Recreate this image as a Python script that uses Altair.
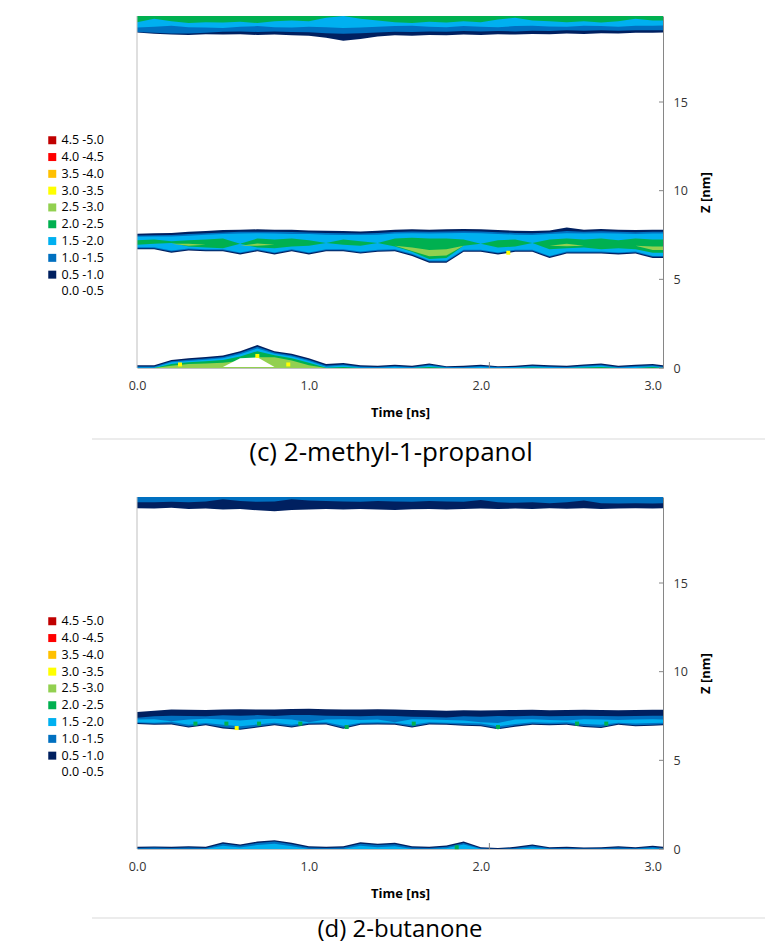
import altair as alt
import pandas as pd

# ---------------- data ----------------
TIME = [0.0, 0.1, 0.2, 0.3, 0.4, 0.5, 0.6, 0.7, 0.8, 0.9,
        1.0, 1.1, 1.2, 1.3, 1.4, 1.5, 1.6, 1.7, 1.8, 1.9,
        2.0, 2.1, 2.2, 2.3, 2.4, 2.5, 2.6, 2.7, 2.8, 2.9,
        3.0, 3.06]

LEGEND_LABELS = ["4.5 -5.0", "4.0 -4.5", "3.5 -4.0", "3.0 -3.5", "2.5 -3.0",
                 "2.0 -2.5", "1.5 -2.0", "1.0 -1.5", "0.5 -1.0", "0.0 -0.5"]
LEGEND_COLORS = ["#C00000", "#FF0000", "#FFC000", "#FFFF00", "#92D050",
                 "#00B050", "#00B0F0", "#0070C0", "#002060", "#FFFFFF"]

X_TICKS = [0, 1, 2, 3]
Y_TICKS = [0, 5, 10, 15]
Z_TOP = 19.85

CAPTIONS = ["(c) 2-methyl-1-propanol", "(d) 2-butanone"]

# ---- panel (c) : upper layer (lower edges, layer reaches top of plot)
C_TOP_NAVY = [18.92, 18.85, 18.80, 18.78, 18.82, 18.80, 18.82, 18.78, 18.80, 18.76,
              18.74, 18.62, 18.45, 18.55, 18.70, 18.76, 18.74, 18.78, 18.76, 18.80,
              18.78, 18.82, 18.80, 18.84, 18.82, 18.86, 18.84, 18.88, 18.86, 18.90,
              18.90, 18.92]
C_TOP_MID = [18.95, 18.90, 18.86, 18.86, 18.90, 18.96, 18.98, 18.95, 18.98, 18.95,
             18.94, 18.88, 18.85, 18.88, 18.92, 18.96, 18.95, 18.98, 18.96, 19.00,
             18.98, 19.00, 18.98, 19.02, 19.00, 19.04, 19.02, 19.04, 19.02, 19.04,
             19.04, 19.05]
C_TOP_LIGHT = [19.20, 19.25, 19.30, 19.22, 19.20, 19.18, 19.25, 19.28, 19.22, 19.20,
               19.25, 19.22, 19.18, 19.20, 19.25, 19.28, 19.30, 19.25, 19.22, 19.28,
               19.25, 19.22, 19.28, 19.30, 19.26, 19.24, 19.30, 19.28, 19.25, 19.30,
               19.30, 19.32]
C_TOP_GREEN = [19.50, 19.70, 19.55, 19.45, 19.50, 19.48, 19.52, 19.45, 19.55, 19.60,
               19.55, 19.75, 19.85, 19.70, 19.60, 19.50, 19.45, 19.52, 19.48, 19.55,
               19.50, 19.65, 19.75, 19.60, 19.55, 19.50, 19.55, 19.48, 19.55, 19.70,
               19.60, 19.60]

# ---- panel (c) : middle layer
C_MID_NAVY_HI = [7.57, 7.60, 7.62, 7.68, 7.72, 7.78, 7.80, 7.82, 7.80, 7.80,
                 7.76, 7.74, 7.72, 7.70, 7.74, 7.80, 7.82, 7.80, 7.82, 7.84,
                 7.82, 7.78, 7.74, 7.72, 7.76, 7.92, 7.80, 7.84, 7.80, 7.78,
                 7.80, 7.80]
C_MID_NAVY_LO = [6.69, 6.69, 6.50, 6.62, 6.58, 6.58, 6.40, 6.58, 6.40, 6.58,
                 6.40, 6.58, 6.58, 6.45, 6.55, 6.58, 6.32, 5.94, 5.94, 6.55,
                 6.55, 6.40, 6.55, 6.55, 6.20, 6.45, 6.45, 6.45, 6.40, 6.45,
                 6.20, 6.20]
C_MID_MID_HI = [7.47, 7.49, 7.50, 7.55, 7.60, 7.64, 7.68, 7.69, 7.68, 7.67,
                7.64, 7.62, 7.60, 7.59, 7.62, 7.67, 7.70, 7.68, 7.70, 7.71,
                7.70, 7.66, 7.62, 7.60, 7.64, 7.72, 7.68, 7.71, 7.68, 7.66,
                7.68, 7.68]
C_MID_MID_LO = [6.75, 6.75, 6.57, 6.68, 6.64, 6.64, 6.47, 6.64, 6.47, 6.64,
                6.47, 6.64, 6.64, 6.51, 6.61, 6.64, 6.38, 6.01, 6.01, 6.61,
                6.61, 6.47, 6.61, 6.61, 6.27, 6.51, 6.51, 6.51, 6.47, 6.51,
                6.27, 6.27]
C_MID_LIGHT_HI = [7.40, 7.42, 7.42, 7.46, 7.52, 7.55, 7.58, 7.60, 7.58, 7.56,
                  7.55, 7.52, 7.50, 7.50, 7.52, 7.58, 7.60, 7.58, 7.60, 7.62,
                  7.60, 7.56, 7.52, 7.50, 7.55, 7.60, 7.58, 7.60, 7.58, 7.56,
                  7.58, 7.58]
C_MID_LIGHT_LO = [6.81, 6.81, 6.62, 6.74, 6.70, 6.70, 6.52, 6.70, 6.52, 6.70,
                  6.52, 6.70, 6.70, 6.57, 6.67, 6.70, 6.44, 6.06, 6.06, 6.67,
                  6.67, 6.52, 6.67, 6.67, 6.32, 6.57, 6.57, 6.57, 6.52, 6.57,
                  6.32, 6.32]
C_MID_GREEN_HI = [7.20, 7.25, 7.15, 7.20, 7.25, 7.30, 7.00, 7.30, 7.25, 7.30,
                  7.20, 7.05, 7.25, 7.15, 7.05, 7.30, 7.35, 7.30, 7.30, 7.25,
                  7.00, 7.20, 7.25, 7.05, 7.25, 7.30, 7.25, 7.30, 7.20, 7.30,
                  7.25, 7.25]
C_MID_GREEN_LO = [6.95, 7.00, 7.05, 6.85, 6.80, 6.75, 7.00, 6.80, 6.75, 6.85,
                  6.90, 7.05, 6.95, 6.90, 7.05, 6.85, 6.55, 6.15, 6.20, 6.90,
                  7.00, 6.80, 6.85, 7.05, 6.70, 6.75, 6.80, 6.70, 6.75, 6.70,
                  6.50, 6.50]
C_MID_LGREEN_HI = [6.95, 6.95, 7.00, 7.00, 6.95, 6.85, 6.90, 7.02, 6.95, 6.85,
                   6.90, 6.90, 6.90, 6.90, 6.90, 6.90, 6.80, 6.65, 6.70, 6.90,
                   6.90, 6.90, 6.90, 6.90, 6.90, 7.00, 6.90, 6.90, 6.90, 6.90,
                   6.85, 6.85]
C_MID_LGREEN_LO = [6.95, 6.95, 7.00, 6.90, 6.95, 6.85, 6.90, 6.90, 6.95, 6.85,
                   6.90, 6.90, 6.90, 6.90, 6.90, 6.90, 6.60, 6.30, 6.35, 6.90,
                   6.90, 6.90, 6.90, 6.90, 6.90, 6.86, 6.90, 6.90, 6.90, 6.90,
                   6.65, 6.65]

# ---- panel (c) : bottom layer (upper edges, layer starts at 0)
C_BOT_NAVY = [0.15, 0.15, 0.45, 0.55, 0.62, 0.70, 0.95, 1.30, 0.95, 0.80,
              0.55, 0.22, 0.28, 0.15, 0.12, 0.18, 0.12, 0.25, 0.10, 0.12,
              0.18, 0.10, 0.12, 0.20, 0.15, 0.12, 0.20, 0.25, 0.12, 0.18,
              0.22, 0.15]
C_BOT_MID = [0.08, 0.08, 0.38, 0.47, 0.54, 0.62, 0.86, 1.20, 0.87, 0.72,
             0.47, 0.14, 0.20, 0.08, 0.06, 0.11, 0.06, 0.18, 0.05, 0.06,
             0.11, 0.05, 0.06, 0.13, 0.08, 0.06, 0.13, 0.18, 0.06, 0.11,
             0.15, 0.08]
C_BOT_LIGHT = [0.03, 0.03, 0.32, 0.40, 0.47, 0.55, 0.78, 1.10, 0.80, 0.65,
               0.40, 0.07, 0.14, 0.03, 0.02, 0.06, 0.02, 0.12, 0.02, 0.02,
               0.06, 0.02, 0.04, 0.08, 0.04, 0.02, 0.08, 0.12, 0.02, 0.06,
               0.10, 0.04]
C_BOT_GREEN = [0.0, 0.0, 0.22, 0.32, 0.38, 0.45, 0.65, 0.95, 0.72, 0.55,
               0.30, 0.02, 0.06, 0.0, 0.0, 0.0, 0.0, 0.05, 0.0, 0.0,
               0.0, 0.0, 0.0, 0.03, 0.0, 0.0, 0.03, 0.06, 0.0, 0.0,
               0.05, 0.0]
C_BOT_LGREEN = [0.0, 0.0, 0.12, 0.22, 0.25, 0.30, 0.40, 0.60, 0.60, 0.42,
                0.15, 0.0, 0.0, 0.0, 0.0, 0.0, 0.0, 0.0, 0.0, 0.0,
                0.0, 0.0, 0.0, 0.0, 0.0, 0.0, 0.0, 0.0, 0.0, 0.0,
                0.0, 0.0]
C_HOLE_T = [0.5, 0.6, 0.7, 0.8]
C_HOLE_HI = [0.05, 0.55, 0.60, 0.05]
C_HOLE_LO = [0.05, 0.05, 0.05, 0.05]

C_SPOT_T = [0.25, 0.70, 0.88, 2.16]
C_SPOT_Z = [0.20, 0.68, 0.20, 6.50]
C_SPOT_BAND = ["3.0 -3.5", "3.0 -3.5", "3.0 -3.5", "3.0 -3.5"]

# ---- panel (d) : upper layer
D_TOP_NAVY = [19.22, 19.20, 19.24, 19.18, 19.20, 19.15, 19.17, 19.10, 19.05, 19.12,
              19.15, 19.18, 19.14, 19.17, 19.15, 19.12, 19.16, 19.18, 19.15, 19.18,
              19.20, 19.17, 19.20, 19.18, 19.21, 19.19, 19.22, 19.18, 19.20, 19.22,
              19.20, 19.22]
D_TOP_MID = [19.55, 19.55, 19.58, 19.55, 19.60, 19.72, 19.62, 19.58, 19.60, 19.72,
             19.65, 19.62, 19.60, 19.58, 19.62, 19.60, 19.58, 19.62, 19.60, 19.58,
             19.68, 19.55, 19.52, 19.55, 19.50, 19.55, 19.65, 19.50, 19.48, 19.50,
             19.48, 19.50]

# ---- panel (d) : middle layer
D_MID_NAVY_HI = [7.73, 7.80, 7.86, 7.85, 7.84, 7.86, 7.88, 7.87, 7.86, 7.90,
                 7.91, 7.88, 7.87, 7.86, 7.88, 7.86, 7.84, 7.82, 7.80, 7.82,
                 7.81, 7.83, 7.84, 7.85, 7.83, 7.84, 7.85, 7.84, 7.83, 7.84,
                 7.85, 7.85]
D_MID_NAVY_LO = [7.05, 7.00, 7.02, 6.85, 6.98, 6.80, 6.72, 6.85, 6.98, 6.85,
                 7.00, 7.02, 6.78, 7.00, 7.02, 7.00, 6.85, 7.02, 7.00, 6.95,
                 6.92, 6.75, 6.90, 7.00, 6.98, 7.00, 6.88, 6.82, 7.00, 6.92,
                 6.95, 6.98]
D_MID_MID_HI = [7.40, 7.48, 7.52, 7.50, 7.48, 7.54, 7.52, 7.55, 7.50, 7.56,
                7.55, 7.52, 7.50, 7.48, 7.52, 7.50, 7.46, 7.45, 7.42, 7.48,
                7.46, 7.50, 7.48, 7.52, 7.48, 7.50, 7.52, 7.50, 7.48, 7.50,
                7.52, 7.52]
D_MID_MID_LO = [7.11, 7.06, 7.08, 6.91, 7.04, 6.86, 6.78, 6.91, 7.04, 6.91,
                7.06, 7.08, 6.84, 7.06, 7.08, 7.06, 6.91, 7.08, 7.06, 7.01,
                6.98, 6.81, 6.96, 7.06, 7.04, 7.06, 6.94, 6.88, 7.06, 6.98,
                7.01, 7.04]
D_MID_LIGHT_HI = [7.30, 7.32, 7.20, 7.30, 7.35, 7.30, 7.25, 7.32, 7.35, 7.30,
                  7.15, 7.30, 7.32, 7.28, 7.30, 7.15, 7.32, 7.30, 7.28, 7.25,
                  7.15, 7.10, 7.30, 7.32, 7.28, 7.25, 7.32, 7.30, 7.28, 7.30,
                  7.32, 7.30]
D_MID_LIGHT_LO = [7.15, 7.12, 7.18, 7.00, 7.10, 7.00, 6.92, 7.02, 7.12, 7.00,
                  7.12, 7.15, 6.95, 7.12, 7.15, 7.12, 7.00, 7.15, 7.12, 7.10,
                  7.08, 6.92, 7.05, 7.15, 7.12, 7.15, 7.05, 7.00, 7.12, 7.08,
                  7.10, 7.12]

# ---- panel (d) : bottom layer
D_BOT_NAVY = [0.12, 0.14, 0.12, 0.15, 0.12, 0.38, 0.25, 0.42, 0.50, 0.35,
              0.15, 0.12, 0.15, 0.38, 0.30, 0.35, 0.15, 0.12, 0.20, 0.42,
              0.10, 0.05, 0.12, 0.25, 0.10, 0.12, 0.08, 0.10, 0.15, 0.10,
              0.18, 0.12]
D_BOT_MID = [0.06, 0.08, 0.06, 0.09, 0.06, 0.30, 0.18, 0.34, 0.42, 0.27,
             0.08, 0.06, 0.09, 0.30, 0.22, 0.27, 0.09, 0.06, 0.13, 0.34,
             0.04, 0.0, 0.06, 0.18, 0.04, 0.06, 0.03, 0.04, 0.09, 0.04,
             0.11, 0.06]
D_BOT_LIGHT = [0.0, 0.0, 0.0, 0.0, 0.0, 0.18, 0.08, 0.22, 0.30, 0.15,
               0.0, 0.0, 0.0, 0.18, 0.10, 0.15, 0.0, 0.0, 0.04, 0.25,
               0.0, 0.0, 0.0, 0.08, 0.0, 0.0, 0.0, 0.0, 0.0, 0.0,
               0.04, 0.0]

D_SPOT_T = [0.34, 0.52, 0.71, 0.95, 1.22, 1.61, 2.10, 2.56, 2.73, 1.86, 0.58]
D_SPOT_Z = [7.07, 7.07, 7.07, 7.07, 6.88, 7.07, 6.88, 7.07, 7.07, 0.10, 6.82]
D_SPOT_BAND = ["2.0 -2.5", "2.0 -2.5", "2.0 -2.5", "2.0 -2.5", "2.0 -2.5", "2.0 -2.5",
               "2.0 -2.5", "2.0 -2.5", "2.0 -2.5", "2.0 -2.5", "3.0 -3.5"]

# ---------------- chart ----------------
W, H = 526, 352
FONT = "Open Sans"

XS = alt.Scale(domain=[0, 3.06], nice=False, zero=False)
YS = alt.Scale(domain=[0, Z_TOP], nice=False, zero=False)
XAX = alt.Axis(values=X_TICKS, format=".1f", title="Time [ns]", ticks=False,
               labelPadding=11, titlePadding=15, labelFlush=False,
               domainColor="#bfbfbf", grid=False)
YAX = alt.Axis(orient="right", values=Y_TICKS, ticks=False, labelPadding=10,
               title="Z [nm]", titleAngle=270, titlePadding=25,
               domainColor="#868686", grid=False)
COLOR = alt.Color(
    "band:N",
    scale=alt.Scale(domain=LEGEND_LABELS, range=LEGEND_COLORS),
    title=None,
    legend=alt.Legend(orient="none", legendX=-91, legendY=118,
                      symbolType="square", symbolSize=64, symbolStrokeWidth=0,
                      labelFontSize=12.5, labelFont=FONT, labelColor="black",
                      labelOffset=3, rowPadding=3.8, padding=0),
)


def area(t, lo, hi, band):
    df = pd.DataFrame({"t": t, "lo": lo, "hi": hi, "band": band})
    return alt.Chart(df).mark_area(interpolate="linear", clip=True).encode(
        x=alt.X("t:Q", scale=XS, axis=XAX),
        y=alt.Y("hi:Q", scale=YS, axis=YAX),
        y2="lo:Q",
        color=COLOR,
    )


def spots(t, z, band):
    df = pd.DataFrame({"t": t, "z": z, "band": band})
    return alt.Chart(df).mark_square(size=16, opacity=1).encode(
        x=alt.X("t:Q", scale=XS, axis=XAX),
        y=alt.Y("z:Q", scale=YS, axis=YAX),
        color=COLOR,
    )


def frame(caption, cap_x, cap_y, cap_size, sep_y):
    left_line = alt.Chart(pd.DataFrame({"t": [0.0]})).mark_rule(color="#bfbfbf").encode(
        x=alt.X("t:Q", scale=XS, axis=XAX), y=alt.value(0), y2=alt.value(H))
    rticks = alt.Chart(pd.DataFrame({"z": Y_TICKS})).mark_rule(color="#868686").encode(
        y=alt.Y("z:Q", scale=YS, axis=YAX), x=alt.value(W - 4), x2=alt.value(W))
    mtick = alt.Chart(pd.DataFrame({"t": [2.05]})).mark_rule(color="#868686").encode(
        x=alt.X("t:Q", scale=XS, axis=XAX), y=alt.value(H - 6), y2=alt.value(H))
    sep = alt.Chart(pd.DataFrame({"a": [0]})).mark_rule(color="#d9d9d9").encode(
        x=alt.value(-45), x2=alt.value(628), y=alt.value(sep_y))
    cap = alt.Chart(pd.DataFrame({"c": [caption]})).mark_text(
        font=FONT, fontSize=cap_size, align="center", baseline="middle", color="black"
    ).encode(text="c:N", x=alt.value(cap_x), y=alt.value(cap_y))
    return [left_line, rticks, mtick, sep, cap]


N1, N2, N3, N4, N5 = "0.5 -1.0", "1.0 -1.5", "1.5 -2.0", "2.0 -2.5", "2.5 -3.0"

panel_c = alt.layer(
    area(TIME, C_TOP_NAVY, Z_TOP, N1),
    area(TIME, C_TOP_MID, Z_TOP, N2),
    area(TIME, C_TOP_LIGHT, Z_TOP, N3),
    area(TIME, C_TOP_GREEN, Z_TOP, N4),
    area(TIME, C_MID_NAVY_LO, C_MID_NAVY_HI, N1),
    area(TIME, C_MID_MID_LO, C_MID_MID_HI, N2),
    area(TIME, C_MID_LIGHT_LO, C_MID_LIGHT_HI, N3),
    area(TIME, C_MID_GREEN_LO, C_MID_GREEN_HI, N4),
    area(TIME, C_MID_LGREEN_LO, C_MID_LGREEN_HI, N5),
    area(TIME, 0.0, C_BOT_NAVY, N1),
    area(TIME, 0.0, C_BOT_MID, N2),
    area(TIME, 0.0, C_BOT_LIGHT, N3),
    area(TIME, 0.0, C_BOT_GREEN, N4),
    area(TIME, 0.0, C_BOT_LGREEN, N5),
    area(C_HOLE_T, C_HOLE_LO, C_HOLE_HI, "0.0 -0.5"),
    spots(C_SPOT_T, C_SPOT_Z, C_SPOT_BAND),
    *frame(CAPTIONS[0], 254, 437, 26, 423),
).properties(width=W, height=H)

panel_d = alt.layer(
    area(TIME, D_TOP_NAVY, Z_TOP, N1),
    area(TIME, D_TOP_MID, Z_TOP, N2),
    area(TIME, D_MID_NAVY_LO, D_MID_NAVY_HI, N1),
    area(TIME, D_MID_MID_LO, D_MID_MID_HI, N2),
    area(TIME, D_MID_LIGHT_LO, D_MID_LIGHT_HI, N3),
    area(TIME, 0.0, D_BOT_NAVY, N1),
    area(TIME, 0.0, D_BOT_MID, N2),
    area(TIME, 0.0, D_BOT_LIGHT, N3),
    spots(D_SPOT_T, D_SPOT_Z, D_SPOT_BAND),
    *frame(CAPTIONS[1], 263, 433, 24, 421),
).properties(width=W, height=H)

chart = alt.vconcat(panel_c, panel_d, spacing=30).resolve_scale(
    color="independent"
).properties(
    padding={"left": 46, "top": 15, "right": 0, "bottom": 0}
).configure(font=FONT).configure_view(strokeWidth=0).configure_axis(
    labelFont=FONT, labelFontSize=12.5, labelColor="#333333",
    titleFont=FONT, titleFontSize=13, titleFontWeight="bold", titleColor="black",
)

chart.save("out.html", embed_options={"renderer": "svg", "actions": False})
